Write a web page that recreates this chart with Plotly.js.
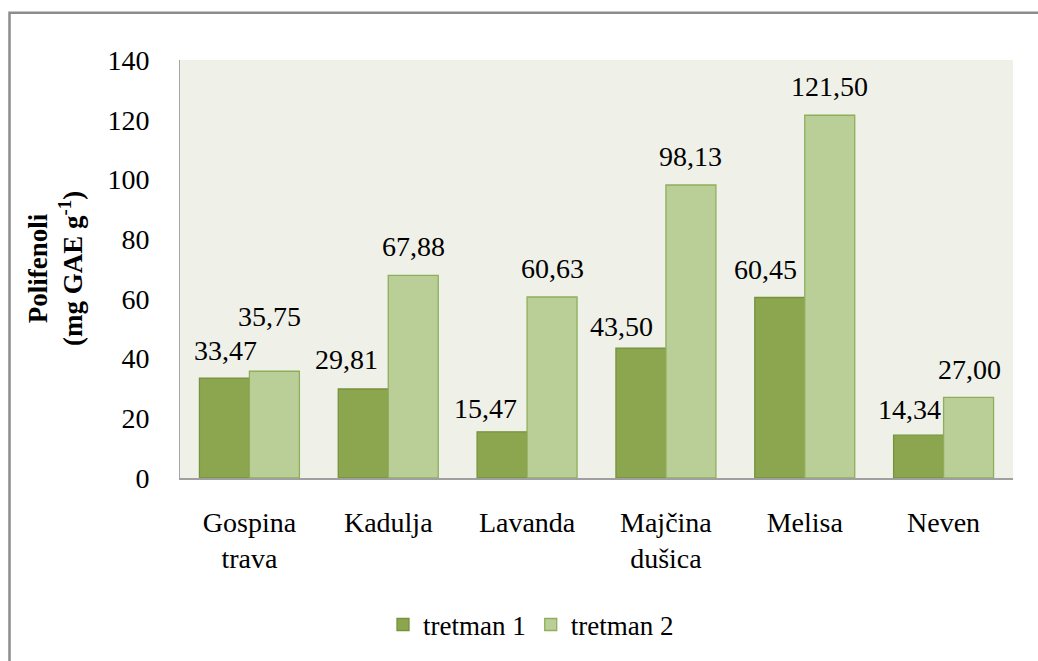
<!DOCTYPE html>
<html>
<head>
<meta charset="utf-8">
<script src="https://cdn.plot.ly/plotly-3.0.1.min.js"></script>
<style>html,body{margin:0;padding:0;background:#fff;}#chart{width:1038px;height:661px;}</style>
</head>
<body>
<div id="chart"></div>
<script>
const categories = ['Gospina<br>trava', 'Kadulja', 'Lavanda', 'Majčina<br>dušica', 'Melisa', 'Neven'];
const tretman1 = [33.47, 29.81, 15.47, 43.50, 60.45, 14.34];
const tretman2 = [35.75, 67.88, 60.63, 98.13, 121.50, 27.00];
const seriesNames = ['tretman 1', 'tretman 2'];

// label placement tweaks (pixels), mimicking the original's manual label offsets
const lab1dx = [1, -17, -17, -19, -14, -9];
const lab1dy = [28, 30, 23, 22, 28, 26];
const lab2dx = [-5, 0, 0, 0, 0, 1];
const lab2dy = [55, 29, 28, 29, 29, 28];

const fontFam = '"Liberation Serif", "Times New Roman", serif';
const W = 1038, H = 661;
const M = {l: 180, r: 25, t: 60, b: 180};
const plotW = W - M.l - M.r;
const plotH = H - M.t - M.b;
const bargap = 0.28;
const catW = plotW / categories.length;
const barW = catW * (1 - bargap) / 2;

const fmt = v => v.toFixed(2).replace('.', ',');

const traces = [
  {type: 'bar', name: seriesNames[0], x: categories, y: tretman1,
   marker: {color: '#8BA64F', line: {color: '#76923C', width: 1.3}}, hoverinfo: 'y'},
  {type: 'bar', name: seriesNames[1], x: categories, y: tretman2,
   marker: {color: '#BACF97', line: {color: '#8FAE5C', width: 1.3}}, hoverinfo: 'y'}
];

const annotations = [];
categories.forEach((c, i) => {
  annotations.push({x: c, y: tretman1[i], xref: 'x', yref: 'y', text: fmt(tretman1[i]),
    showarrow: false, xanchor: 'center', yanchor: 'middle',
    xshift: -barW / 2 + lab1dx[i], yshift: lab1dy[i],
    font: {family: fontFam, size: 28, color: '#000'}});
  annotations.push({x: c, y: tretman2[i], xref: 'x', yref: 'y', text: fmt(tretman2[i]),
    showarrow: false, xanchor: 'center', yanchor: 'middle',
    xshift: barW / 2 + lab2dx[i], yshift: lab2dy[i],
    font: {family: fontFam, size: 28, color: '#000'}});
});
annotations.push({xref: 'paper', yref: 'paper', x: (55 - M.l) / plotW, y: 0.5,
  text: '<b>Polifenoli</b><br><b>(mg GAE g<sup>-1</sup>)</b>', textangle: -90,
  showarrow: false, xanchor: 'center', yanchor: 'middle',
  font: {family: fontFam, size: 27, color: '#000'}});

const layout = {
  width: W, height: H,
  margin: M,
  font: {family: fontFam, color: '#000'},
  paper_bgcolor: '#ffffff',
  plot_bgcolor: '#EFF1E9',
  barmode: 'group',
  bargap: bargap,
  bargroupgap: 0,
  showlegend: true,
  legend: {orientation: 'h', x: (383 - M.l) / plotW, xanchor: 'left',
    y: -(629 - (H - M.b)) / plotH, yanchor: 'middle',
    font: {family: fontFam, size: 27, color: '#000'}, traceorder: 'normal',
    itemclick: false},
  xaxis: {type: 'category', showgrid: false, zeroline: false,
    showline: true, linecolor: '#A0A0A0', linewidth: 2, ticks: '',
    tickfont: {family: fontFam, size: 28, color: '#000'}, ticklabelstandoff: 18},
  yaxis: {range: [0, 140], dtick: 20, showgrid: false, zeroline: false,
    showline: true, linecolor: '#A6A6A6', linewidth: 1, ticks: '',
    tickfont: {family: fontFam, size: 28, color: '#000'}, ticklabelstandoff: 24},
  annotations: annotations,
  shapes: [{type: 'rect', xref: 'paper', yref: 'paper',
    x0: (9.5 - M.l) / plotW, x1: (W + 20 - M.l) / plotW,
    y0: -(M.b + 30) / plotH, y1: 1 + (M.t - 12.5) / plotH,
    line: {color: '#8C8C8C', width: 2.5}, fillcolor: 'rgba(0,0,0,0)', layer: 'above'}]
};

Plotly.newPlot('chart', traces, layout, {displayModeBar: false, staticPlot: true});
</script>
</body>
</html>
